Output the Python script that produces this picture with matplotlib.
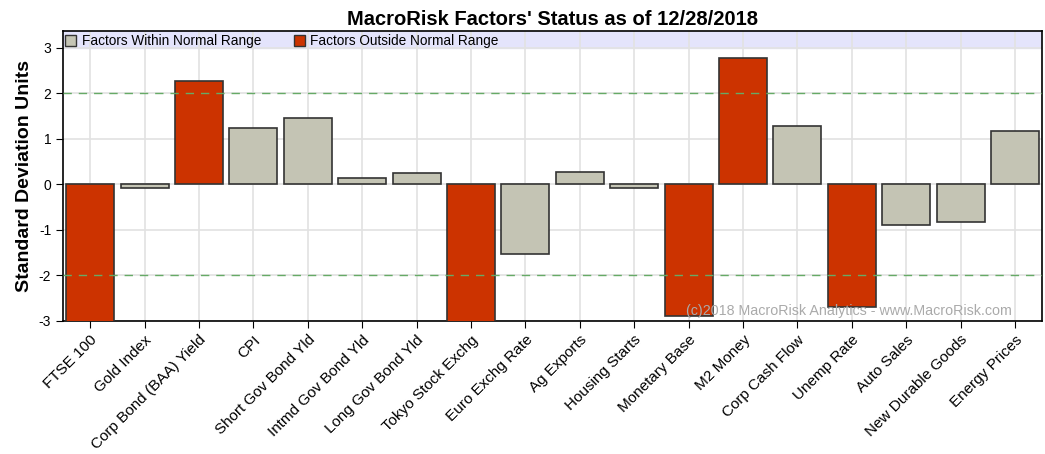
import matplotlib.pyplot as plt
import numpy as np
from matplotlib.patches import Patch

plt.rcParams['font.family'] = ['Liberation Sans', 'DejaVu Sans']

factors = ["FTSE 100", "Gold Index", "Corp Bond (BAA) Yield", "CPI", "Short Gov Bond Yld",
           "Intmd Gov Bond Yld", "Long Gov Bond Yld", "Tokyo Stock Exchg", "Euro Exchg Rate",
           "Ag Exports", "Housing Starts", "Monetary Base", "M2 Money", "Corp Cash Flow",
           "Unemp Rate", "Auto Sales", "New Durable Goods", "Energy Prices"]
values = [-3.2, -0.09, 2.26, 1.23, 1.45, 0.13, 0.25, -3.2, -1.54,
          0.27, -0.07, -2.90, 2.77, 1.29, -2.70, -0.89, -0.83, 1.18]
outside = [True, False, True, False, False, False, False, True, False,
           False, False, True, True, False, True, False, False, False]

gray = '#c4c4b4'
red = '#cc3300'

fig = plt.figure(figsize=(10.45, 4.54), dpi=100)
ax = fig.add_axes([0.0603, 0.293, 0.937, 0.639])

x = np.arange(len(factors))
colors = [red if o else gray for o in outside]
ax.bar(x, values, width=0.88, color=colors, edgecolor='#333333', linewidth=1.2, zorder=3)

ax.set_xlim(-0.5, len(factors) - 0.5)
ax.set_ylim(-3, 3.37)
ax.axhspan(3, 3.37, color='#e4e4fc', zorder=0)

ax.set_yticks([-3, -2, -1, 0, 1, 2, 3])
ax.set_yticklabels(['-3', '-2', '-1', '0', '1', '2', '3'], fontsize=10)
ax.set_xticks(x)
ax.set_xticklabels(factors, rotation=45, ha='right', rotation_mode='anchor', fontsize=11)
ax.tick_params(axis='both', direction='out', length=5, color='black')

ax.grid(True, color='#e2e2e2', linewidth=1.2, zorder=1)
ax.set_axisbelow(True)
for lvl in [-2, 2]:
    ax.axhline(lvl, color='#66aa66', linestyle=(0, (6, 5)), linewidth=1, zorder=4)

for s in ax.spines.values():
    s.set_linewidth(1.2)

ax.set_title("MacroRisk Factors' Status as of 12/28/2018", fontsize=14.5, fontweight='bold', pad=4)
ax.set_ylabel("Standard Deviation Units", fontsize=14, fontweight='bold')

handles = [Patch(facecolor=gray, edgecolor='#333333', label='Factors Within Normal Range'),
           Patch(facecolor=red, edgecolor='#333333', label='Factors Outside Normal Range')]
ax.legend(handles=handles, loc='upper left', ncol=2, frameon=False, fontsize=9.8,
          bbox_to_anchor=(-0.01, 1.03), handlelength=0.8, handleheight=0.8,
          handletextpad=0.4, columnspacing=2.4)

ax.text(0.969, 0.035, "(c)2018 MacroRisk Analytics - www.MacroRisk.com", transform=ax.transAxes,
        ha='right', va='center', fontsize=10.3, color='#aaaaaa', zorder=5)

plt.savefig('out.png', dpi=100)
